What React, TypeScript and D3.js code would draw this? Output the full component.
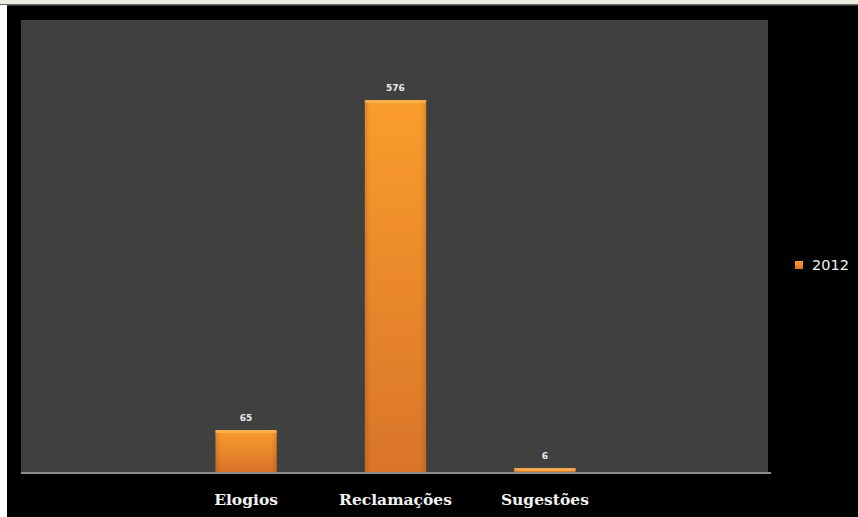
import React from "react";
import * as d3 from "d3";

const categories = ["", "Elogios", "Reclamações", "Sugestões", " "];
const values2012 = [null, 65, 576, 6, null];
const seriesName = "2012";
const yMax = 700;

export default function App() {
  const W = 858, H = 517;
  const plot = { left: 22, right: 769, top: 20, bottom: 472 };
  const x = d3.scaleBand().domain(categories).range([plot.left, plot.right]).paddingInner(0).paddingOuter(0);
  const y = d3.scaleLinear().domain([0, yMax]).range([plot.bottom, plot.top]);
  const barW = x.bandwidth() * 0.41;
  return (
    <div style={{ position: "absolute", left: 0, top: 0, width: W, height: H }}>
      <svg width={W} height={H} style={{ display: "block" }}>
        <defs>
          <linearGradient id="barGrad" x1="0" y1="0" x2="0" y2="1">
            <stop offset="0" stopColor="#fb9d2c" />
            <stop offset="1" stopColor="#d9742a" />
          </linearGradient>
          <linearGradient id="barGradS" x1="0" y1="0" x2="1" y2="0">
            <stop offset="0" stopColor="#000" stopOpacity="0.12" />
            <stop offset="0.1" stopColor="#000" stopOpacity="0" />
            <stop offset="0.9" stopColor="#000" stopOpacity="0" />
            <stop offset="1" stopColor="#000" stopOpacity="0.12" />
          </linearGradient>
        </defs>
        <rect x={0} y={0} width={W} height={H} fill="#000" />
        <rect x={0} y={0} width={W} height={4} fill="#ecebe0" />
        <rect x={0} y={4} width={W} height={1.5} fill="#6a6a66" />
        <rect x={0} y={5} width={7} height={H} fill="#ffffff" />
        <rect x={plot.left - 1} y={plot.top} width={plot.right - plot.left} height={plot.bottom - plot.top + 1} fill="#404040" />
        <line x1={plot.left - 1} x2={plot.right + 2} y1={plot.bottom + 1} y2={plot.bottom + 1} stroke="#8a8a8a" strokeWidth={2} />
        {categories.map((c, i) => {
          const v = values2012[i];
          if (v == null) return null;
          const bx = (x(c) as number) + (x.bandwidth() - barW) / 2;
          const by = y(v);
          const bh = Math.max(plot.bottom - by, 2);
          const byy = plot.bottom - bh;
          return (
            <g key={c}>
              <rect x={bx} y={byy} width={barW} height={bh} fill="url(#barGrad)" />
              <rect x={bx} y={byy} width={barW} height={bh} fill="url(#barGradS)" />
              <rect x={bx} y={byy} width={barW} height={Math.min(3, bh)} fill="#ffc060" opacity={0.6} />
              <text x={bx + barW / 2} y={byy - 9} textAnchor="middle" fill="#ececec" fontFamily="DejaVu Sans" fontWeight="bold" fontSize={9}>{v}</text>
            </g>
          );
        })}
        {categories.map((c) => c.trim() ? (
          <text key={"l" + c} x={(x(c) as number) + x.bandwidth() / 2} y={505} textAnchor="middle" fill="#f2f2f2" fontFamily="DejaVu Serif" fontWeight="bold" fontSize={15.5}>{c}</text>
        ) : null)}
        <rect x={795} y={261} width={8} height={8} fill="url(#barGrad)" />
        <text x={812} y={270} fill="#f2f2f2" fontFamily="DejaVu Sans" fontSize={14.5}>{seriesName}</text>
      </svg>
    </div>
  );
}
